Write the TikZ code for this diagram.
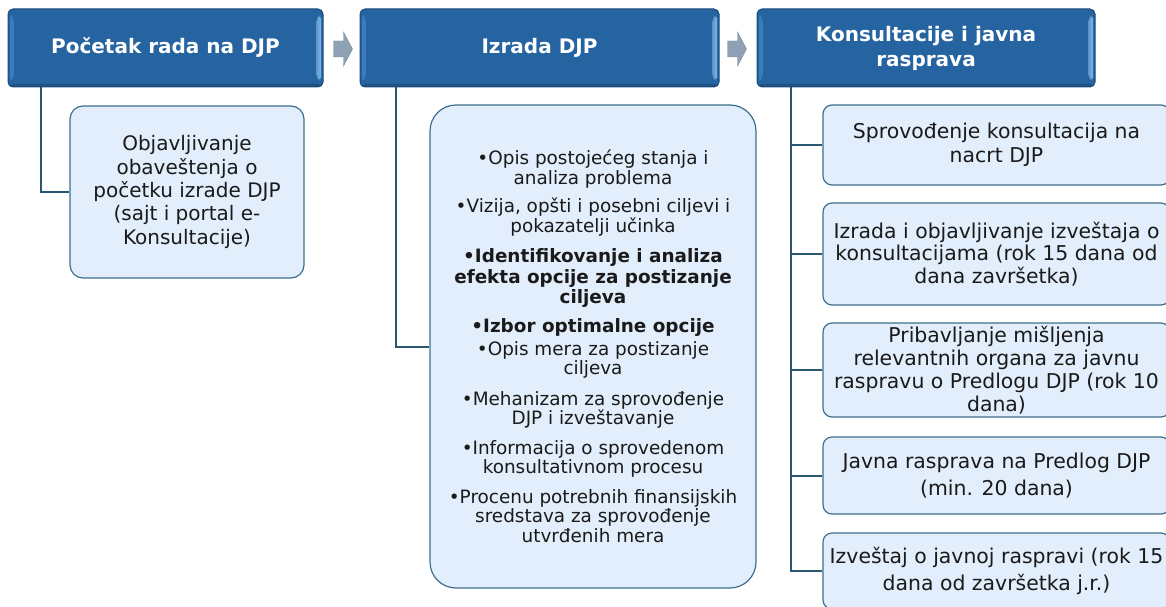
\documentclass[tikz,border=0pt]{standalone}
\usepackage{fontspec}
\setmainfont{DejaVu Sans}
\usetikzlibrary{calc}
\definecolor{hdrfill}{HTML}{2663A1}
\definecolor{hdrdraw}{HTML}{1C4A78}
\definecolor{hdrleft}{HTML}{3E7BBB}
\definecolor{hdrright}{HTML}{80B6E6}
\definecolor{boxfill}{HTML}{E2EEFB}
\definecolor{boxdraw}{HTML}{3F6E8C}
\definecolor{connc}{HTML}{285772}
\definecolor{arrfill}{HTML}{8EA1B5}
\definecolor{txt}{HTML}{1A1A1A}
\tikzset{
  hdr/.style={draw=hdrdraw, line width=1pt, fill=hdrfill, rounded corners=5pt,
    text=white, align=center, inner sep=0pt,
    font=\bfseries\fontsize{20}{24}\selectfont,
    path picture={
      \fill[hdrleft] ([xshift=2pt,yshift=5pt]path picture bounding box.south west)
        -- ([xshift=2pt,yshift=-5pt]path picture bounding box.north west)
        -- ([xshift=6pt,yshift=-10pt]path picture bounding box.north west)
        -- ([xshift=6pt,yshift=10pt]path picture bounding box.south west) -- cycle;
      \shade[left color=hdrfill!40!hdrright, right color=hdrright]
        ([xshift=-2pt,yshift=5pt]path picture bounding box.south east)
        -- ([xshift=-2pt,yshift=-5pt]path picture bounding box.north east)
        -- ([xshift=-7pt,yshift=-10pt]path picture bounding box.north east)
        -- ([xshift=-7pt,yshift=10pt]path picture bounding box.south east) -- cycle;
      \fill[hdrdraw!70!hdrfill] ([yshift=3pt]path picture bounding box.south west)
        rectangle (path picture bounding box.south east);
    }},
  childbox/.style={draw=boxdraw, line width=1.2pt, fill=boxfill, align=center,
    inner sep=0pt, text=txt},
  conn/.style={draw=connc, line width=2pt},
  arr/.style={fill=arrfill, draw=arrfill!85!black, line width=0.4pt},
}
\begin{document}
\begin{tikzpicture}[x=1pt,y=-1pt]
\useasboundingbox (0,0) rectangle (1166,607);
\begin{scope}
\clip (0,0) rectangle (1166,607);

% headers
\node[hdr, minimum width=315pt, minimum height=78pt] (h1) at (165.5,48) {Početak rada na DJP};
\node[hdr, minimum width=359pt, minimum height=78pt] (h2) at (539.5,48) {Izrada DJP};
\node[hdr, minimum width=338pt, minimum height=78pt] (h3) at (926,48) {Konsultacije i javna\\[1pt]rasprava};

% arrows between headers
\path[arr] ($(h1.east)+(10,-7)$) -- ++(10,0) -- ++(0,-9) -- ++(9,17) -- ++(-9,17) -- ++(0,-9) -- ++(-10,0) -- cycle;
\path[arr] ($(h2.east)+(8,-7)$) -- ++(10,0) -- ++(0,-9) -- ++(9,17) -- ++(-9,17) -- ++(0,-9) -- ++(-10,0) -- cycle;

% left child
\node[childbox, rounded corners=13pt, minimum width=234pt, minimum height=172pt,
  font=\fontsize{20}{23.3}\selectfont] (c1) at (187,192)
  {Objavljivanje\\obaveštenja o\\početku izrade DJP\\(sajt i portal e-\\Konsultacije)};

% middle box
\node[childbox, rounded corners=26pt, minimum width=326pt, minimum height=483pt,
  font=\fontsize{18.4}{19.5}\selectfont] (m) at (593,346.5)
  {•Opis postojećeg stanja i\\analiza problema\\[9pt]
   •Vizija, opšti i posebni ciljevi i\\pokazatelji učinka\\[11pt]
   \textbf{•Identifikovanje i analiza}\\[1.5pt]\textbf{efekta opcije za postizanje}\\\textbf{ciljeva}\\[10pt]
   \textbf{•Izbor optimalne opcije}\\[3pt]
   •Opis mera za postizanje\\ciljeva\\[11pt]
   •Mehanizam za sprovođenje\\DJP i izveštavanje\\[10pt]
   •Informacija o sprovedenom\\konsultativnom procesu\\[10pt]
   •Procenu potrebnih finansijskih\\sredstava za sprovođenje\\utvrđenih mera};

% right boxes
\tikzset{rbox/.style={childbox, rounded corners=9pt, minimum width=347pt}}
\node[rbox, minimum height=80pt, font=\fontsize{20.4}{24}\selectfont] (r1) at (996.5,145)
  {Sprovođenje konsultacija na\\nacrt DJP};
\node[rbox, minimum height=102pt, font=\fontsize{20.4}{22.5}\selectfont] (r2) at (996.5,254)
  {Izrada i objavljivanje izveštaja o\\konsultacijama (rok 15 dana od\\dana završetka)};
\node[rbox, minimum height=94pt, font=\fontsize{20.4}{23}\selectfont] (r3) at (996.5,370)
  {Pribavljanje mišljenja\\relevantnih organa za javnu\\raspravu o Predlogu DJP (rok 10\\dana)};
\node[rbox, minimum height=77pt, font=\fontsize{20.4}{26.5}\selectfont] (r4) at (996.5,475.5)
  {Javna rasprava na Predlog DJP\\(min. 20 dana)};
\node[rbox, minimum height=76pt, font=\fontsize{20.4}{27.5}\selectfont] (r5) at (996.5,571)
  {Izveštaj o javnoj raspravi (rok 15\\dana od završetka j.r.)};

% connectors
\draw[conn] ([xshift=33pt]h1.south west) |- (c1.west);
\draw[conn] ([xshift=36pt]h2.south west) |- (m.west);
\draw[conn] ([xshift=34pt]h3.south west) |- (r5.west);
\draw[conn] ([xshift=34pt]h3.south west) |- (r1.west);
\draw[conn] ([xshift=34pt]h3.south west) |- (r2.west);
\draw[conn] ([xshift=34pt]h3.south west) |- (r3.west);
\draw[conn] ([xshift=34pt]h3.south west) |- (r4.west);
\end{scope}
\end{tikzpicture}
\end{document}
